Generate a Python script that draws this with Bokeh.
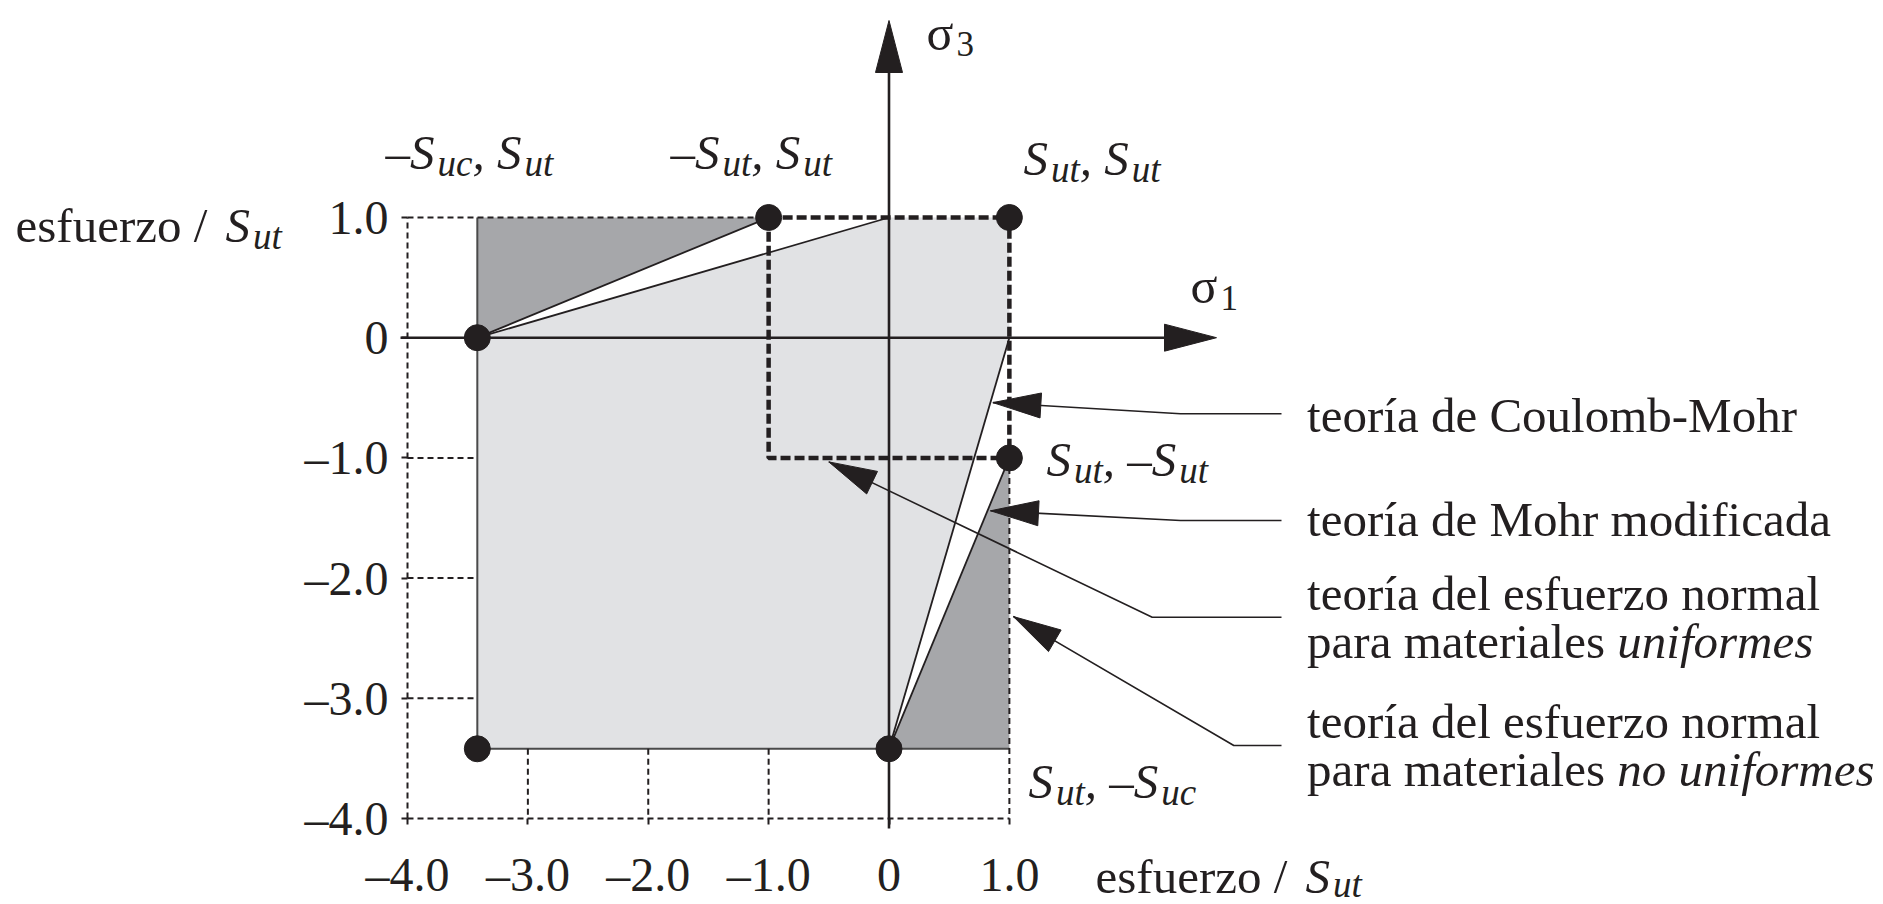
import math
from collections import defaultdict
from bokeh.plotting import figure
from bokeh.models import Range1d, LinearAxis, FixedTicker, ColumnDataSource
from bokeh.core.properties import value
from bokeh.embed import file_html
from bokeh.resources import INLINE

# ---------------- data ----------------
SUC = 3.42                                   # S_uc / S_ut ratio
tick_values = [-4, -3, -2, -1, 0, 1]
tick_labels = ["–4.0", "–3.0", "–2.0", "–1.0", "0", "1.0"]

point_s1 = [-SUC, -1.0, 1.0, 1.0, 0.0, -SUC]
point_s3 = [0.0, 1.0, 1.0, -1.0, -SUC, -SUC]

cm_region_s1 = [-SUC, 0.0, 1.0, 1.0, 0.0, -SUC]
cm_region_s3 = [0.0, 1.0, 1.0, 0.0, -SUC, -SUC]

mm_q2_s1 = [-SUC, -SUC, -1.0]
mm_q2_s3 = [0.0, 1.0, 1.0]
mm_q4_s1 = [1.0, 1.0, 0.0]
mm_q4_s3 = [-1.0, -SUC, -SUC]

uniform_s1 = [-1.0, 1.0, 1.0, -1.0, -1.0]
uniform_s3 = [1.0, 1.0, -1.0, -1.0, 1.0]

theory_lines = [
    [[("teoría de Coulomb-Mohr", False)]],
    [[("teoría de Mohr modificada", False)]],
    [[("teoría del esfuerzo normal", False)],
     [("para materiales ", False), ("uniformes", True)]],
    [[("teoría del esfuerzo normal", False)],
     [("para materiales ", False), ("no uniformes", True)]],
]

# ---------------- layout ----------------
INK = "#231f20"
LIGHT = "#e1e2e4"
DARK = "#a6a7aa"
FONT = "Liberation Serif"

W, H = 1883, 904
UX, UY = 120.375, 120.2
OX, OY = 888.5, 337.2
x_start = -OX / UX
x_end = x_start + W / UX
y_end = OY / UY
y_start = y_end - H / UY


def X(px):
    return (px - OX) / UX


def Y(py):
    return (OY - py) / UY


def dx(px):
    return px / UX


def dy(px):
    return px / UY


REG = {' ': 250, ',': 250, '-': 333, '.': 250, '/': 278, 'C': 667, 'M': 889, 'S': 556,
       'a': 444, 'b': 500, 'c': 444, 'd': 500, 'e': 444, 'f': 333, 'h': 500, 'i': 278,
       'l': 278, 'm': 778, 'n': 500, 'o': 500, 'p': 500, 'r': 333, 's': 389, 't': 278,
       'u': 500, 'z': 444, 'í': 278, '–': 500}
ITA = {' ': 250, ',': 250, '–': 500, 'S': 500, 'u': 500, 't': 278, 'c': 444, 'n': 500,
       'i': 278, 'f': 278, 'o': 500, 'r': 389, 'm': 722, 'e': 444, 's': 389}


def tw(s, italic, size):
    t = ITA if italic else REG
    return sum(t.get(c, 500) for c in s) * size / 1000.0


texts = []
BASE_FIX = 0.26   # em; compensates renderer baseline placement


def rich(x, y, pieces):
    cx = x
    for pc in pieces:
        s, it, size = pc[0], pc[1], pc[2]
        drop = pc[3] if len(pc) > 3 else 0
        kern = pc[4] if len(pc) > 4 else 0
        cx += dx(kern)
        texts.append((cx, y - dy(drop) + dy(BASE_FIX * size), s, it, size))
        cx += dx(tw(s, it, size))


F = 49
SB = 37
SD = 8
IK = 3


def s_sub(sub, drop=SD):
    return [("S", True, F), (sub, True, SB, drop, IK)]


p = figure(width=W, height=H, x_range=Range1d(x_start, x_end), y_range=Range1d(y_start, y_end),
           output_backend="svg", toolbar_location=None, min_border=0,
           x_axis_type=None, y_axis_type=None)
p.outline_line_color = None
p.background_fill_color = "white"
p.border_fill_color = "white"

# regions
p.patch(cm_region_s1, cm_region_s3, fill_color=LIGHT, line_color=None)
p.patch(mm_q2_s1, mm_q2_s3, fill_color=DARK, line_color=None)
p.patch(mm_q4_s1, mm_q4_s3, fill_color=DARK, line_color=None)
p.line([-SUC, -SUC, 1.0], [1.0, -SUC, -SUC], line_color="#4a4a4a", line_width=2)

# thin dashed guide lines
g0x, g0y, g1x, g1y = [], [], [], []
for t in tick_values:
    if -4 < t < 0:
        g0x += [-4, t]; g0y += [t, -SUC]
        g1x += [-SUC, t]; g1y += [t, -4]
g0x += [-4, 1]; g0y += [1, -1]
g1x += [-1, 1]; g1y += [1, -4]
p.segment(g0x, g0y, g1x, g1y, line_color=INK, line_width=2, line_dash="6 4")

# envelope lines
p.multi_line([[-SUC, 0.0], [-SUC, -1.0], [1.0, 0.0], [1.0, 0.0]],
             [[0.0, 1.0], [0.0, 1.0], [0.0, -SUC], [-1.0, -SUC]],
             line_color=INK, line_width=1.8)

# thick dashed square (uniform normal stress)
p.line(uniform_s1, uniform_s3, line_color=INK, line_width=4.5, line_dash="10 4")


def head(tip, frm, L, Wd):
    tx, ty = tip[0] * UX, tip[1] * UY
    fx, fy = frm[0] * UX, frm[1] * UY
    ddx, ddy = fx - tx, fy - ty
    n = math.hypot(ddx, ddy)
    ux, uy = ddx / n, ddy / n
    bx, by = tx + ux * L, ty + uy * L
    qx, qy = -uy, ux
    xs = [tx, bx + qx * Wd / 2, bx - qx * Wd / 2]
    ys = [ty, by + qy * Wd / 2, by - qy * Wd / 2]
    return [v / UX for v in xs], [v / UY for v in ys]


hx, hy = [], []
# main axes sigma1 / sigma3
AX1_TIP = X(1216)
AX3_TIP = Y(20)
p.segment([X(400), 0.0], [0.0, Y(828)], [AX1_TIP - dx(20), 0.0], [0.0, AX3_TIP - dy(20)],
          line_color=INK, line_width=2.6)
for tip in [(AX1_TIP, 0.0), (0.0, AX3_TIP)]:
    a, b = head(tip, (0.0, 0.0), 52, 27)
    hx.append(a); hy.append(b)

# leaders
y_cm = -0.54
y_mm = -1.44
tips = [
    (1.0 + y_cm / SUC + dx(2.5), y_cm),
    ((y_mm + SUC) / (SUC - 1.0) + dx(3), y_mm),
    (-0.5, -1.0 - dy(4)),
    (1.0 + dx(4), -2.32),
]
bends = [(X(1180), Y(413.3)), (X(1180), Y(520)), (X(1151.7), Y(616.7)), (X(1233.3), Y(745))]
LEAD_END = X(1281)
lx, ly = [], []
for tip, bend in zip(tips, bends):
    a, b = head(tip, bend, 48, 25)
    hx.append(a); hy.append(b)
    lx.append([tip[0], bend[0], LEAD_END])
    ly.append([tip[1], bend[1], bend[1]])
p.multi_line(lx, ly, line_color=INK, line_width=1.6)
p.patches(hx, hy, fill_color=INK, line_color=INK, line_width=1)

# points
p.scatter(point_s1, point_s3, size=26, fill_color=INK, line_color=INK)

# axes with ticks (dashed box edges)
common = dict(axis_line_color=INK, axis_line_width=2, axis_line_dash="6 4",
              major_tick_line_color=INK, major_tick_line_width=2,
              major_tick_in=0, major_tick_out=6, minor_tick_line_color=None,
              major_label_text_font=FONT, major_label_text_font_size="48px",
              major_label_text_color=INK, fixed_location=-4, bounds=(-4, 1),
              major_label_overrides=dict(zip(tick_values, tick_labels)))
yax = LinearAxis(major_label_standoff=13, ticker=FixedTicker(ticks=tick_values), **common)
xax = LinearAxis(major_label_standoff=23, ticker=FixedTicker(ticks=tick_values), **common)
p.add_layout(yax, "left")
p.add_layout(xax, "below")

# texts: axis titles
rich(X(15), Y(238), [("esfuerzo / ", False, F), ("S", True, F, 0, 6), ("ut", True, SB, SD, IK)])
rich(X(1095), Y(889), [("esfuerzo / ", False, F), ("S", True, F, 0, 6), ("ut", True, SB, 5, IK)])

# sigma labels
rich(X(926), Y(45), [("σ", False, 50)])
rich(X(956), Y(53), [("3", False, 35)])
rich(X(1190), Y(298.3), [("σ", False, 50)])
rich(X(1220), Y(306.7), [("1", False, 35)])

# point labels
rich(X(385), Y(165), [("–", False, F)] + s_sub("uc") + [(", ", True, F)] + s_sub("ut"))
rich(X(670), Y(165), [("–", False, F)] + s_sub("ut") + [(", ", True, F)] + s_sub("ut"))
rich(X(1023), Y(171), s_sub("ut") + [(", ", True, F)] + s_sub("ut"))
rich(X(1046), Y(471.7), s_sub("ut") + [(", –", True, F)] + s_sub("ut"))
rich(X(1028), Y(793.3), s_sub("ut") + [(", –", True, F)] + s_sub("uc"))

# theory notes
TEXT_X = X(1306.6)
baselines = [[428], [532], [606, 654], [734, 782]]
for lines, bls in zip(theory_lines, baselines):
    for segs, bl in zip(lines, bls):
        rich(TEXT_X, Y(bl), [(s, it, F) for s, it in segs])

groups = defaultdict(lambda: dict(x=[], y=[], text=[]))
for x, y, s, it, size in texts:
    g = groups[(it, size)]
    g["x"].append(x); g["y"].append(y); g["text"].append(s)
for (it, size), d in groups.items():
    p.text(x="x", y="y", text="text", source=ColumnDataSource(d),
           text_font=value(FONT), text_font_size=value(f"{size}px"),
           text_font_style="italic" if it else "normal",
           text_baseline="alphabetic", text_align="left", text_color=INK)

with open("out.html", "w", encoding="utf-8") as f:
    f.write(file_html(p, INLINE))
